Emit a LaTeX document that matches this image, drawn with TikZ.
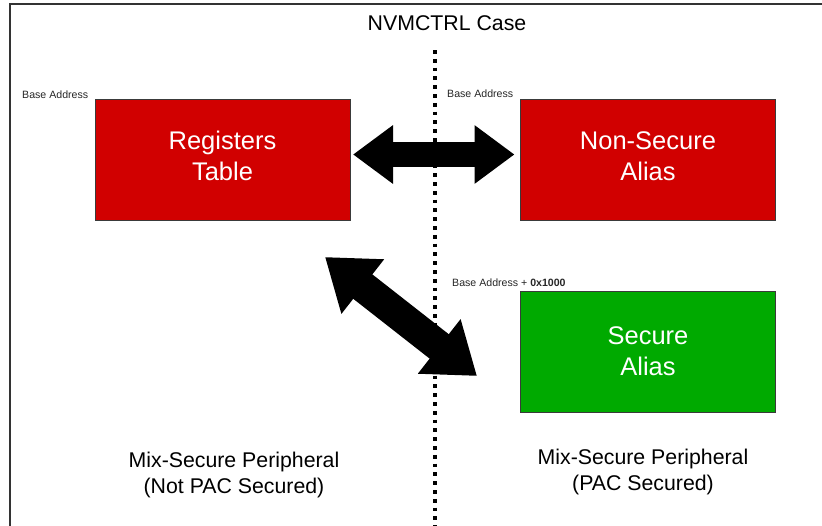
\documentclass[tikz,border=0pt]{standalone}
\usepackage{fontspec}
\setmainfont{Liberation Sans}
\usetikzlibrary{arrows.meta,calc}
\definecolor{nred}{HTML}{D10000}
\definecolor{ngreen}{HTML}{00AA00}
\definecolor{nstroke}{HTML}{3A3A3A}
\definecolor{frame}{HTML}{333333}
\tikzset{
  box/.style={draw=nstroke, line width=0.8pt, text=white, align=center,
    minimum width=255pt, minimum height=121pt, inner sep=0pt, outer sep=0pt,
    font=\fontsize{25.5}{31}\selectfont},
  small/.style={font=\fontsize{10.6}{12}\selectfont, text=black!85, inner sep=0pt},
  caption/.style={font=\fontsize{21.3}{26}\selectfont, align=center, inner sep=0pt},
  hbig/.style={line width=25pt, {Triangle[length=40pt,width=56pt]}-{Triangle[length=40pt,width=56pt]}},
  dbig/.style={line width=31pt, {Triangle[length=48pt,width=66pt]}-{Triangle[length=48pt,width=66pt]}},
  divider/.style={line width=3.8pt, dash pattern=on 3.8pt off 5pt},
}
\begin{document}
\begin{tikzpicture}[x=1pt,y=-1pt]
\useasboundingbox (0,0) rectangle (822,525);
% frame (cropped)
\draw[frame, line width=2pt] (10,530) -- (10,4) -- (830,4);
% divider
\coordinate (dtop) at (435,50);
\coordinate (dbot) at (435,528);
\draw[divider] (dtop) -- (dbot);
% title
\node[caption] (title) at (447,23) {NVMCTRL Case};
% boxes
\node[box, fill=nred] (reg) at (222.5,159.5) {Registers\\Table\\[-24pt]\mbox{}};
\node[box, fill=nred] (ns) at (648,159.5) {Non-Secure\\Alias\\[-24pt]\mbox{}};
\node[box, fill=ngreen] (sec) at (648,352) {Secure\\Alias\\[-29pt]\mbox{}};
% small labels
\node[small, anchor=base west] (l1) at (22,98) {Base Address};
\node[small, anchor=base west] (l2) at (447,97) {Base Address};
\node[small, anchor=base west] (l3) at (452,286) {Base Address + \textbf{0x1000}};
% arrows
\draw[hbig] ($(reg.east)+(3,-5)$) -- ($(ns.west)+(-6,-5)$);
\coordinate (d1) at (325,257);
\coordinate (d2) at (477,376);
\draw[dbig] (d1) -- (d2);
% captions
\node[caption] (c1) at (234,475) {Mix-Secure Peripheral\\(Not PAC Secured)};
\node[caption] (c2) at (643,472) {Mix-Secure Peripheral\\(PAC Secured)};
\end{tikzpicture}
\end{document}
